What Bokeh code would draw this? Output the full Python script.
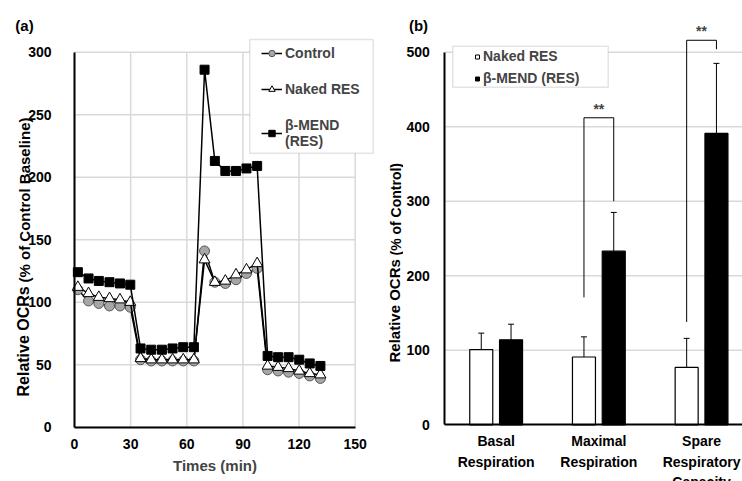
import math
from bokeh.plotting import figure
from bokeh.models import (Range1d, FixedTicker, Legend, LegendItem, Whisker, TeeHead,
                          Label, ColumnDataSource, BoxAnnotation)
from bokeh.layouts import row
from bokeh.embed import file_html
from bokeh.resources import INLINE

# ---------------- data: panel (a) ----------------
times = [1.8, 7.5, 13.0, 18.7, 24.3, 29.8, 35.3, 41.0, 46.7, 52.4, 58.1, 63.8,
         69.5, 75.0, 80.6, 86.3, 91.9, 97.6, 103.2, 108.8, 114.4, 120.1, 125.7, 131.4]
control = [110, 101, 99, 97, 97, 96, 54, 53, 53, 53, 53, 53,
           141, 116, 115, 118, 123, 127, 46, 45, 44, 43, 41, 39]
naked = [112, 107, 104, 103, 102, 100, 55, 54, 54, 54, 54, 54,
         134, 116, 117, 122, 126, 131, 49, 48, 47, 45, 43, 42]
beta = [124, 119, 117, 116, 115, 114, 63, 62, 62, 63, 64, 64,
        286, 213, 205, 205, 207, 209, 57, 56, 56, 54, 51, 49]
x_ticks_a = [0, 30, 60, 90, 120, 150]
y_ticks_a = [0, 50, 100, 150, 200, 250, 300]

# ---------------- data: panel (b) ----------------
categories = ["Basal\nRespiration", "Maximal\nRespiration", "Spare\nRespiratory\nCapacity"]
naked_mean = [101, 91, 77]
naked_err = [22, 27, 39]
beta_mean = [114, 233, 391]
beta_err = [21, 52, 94]
sig_text = ["", "**", "**"]
bracket_left = [None, 171, 138]
bracket_top = [None, 412, 516]
bracket_right = [None, 300, 504]
y_ticks_b = [0, 100, 200, 300, 400, 500]

FONT = "Liberation Sans"
GRID = "#d9d9d9"
BORDER = "#a6a6a6"
H = 481
W1 = 403
W2 = 339
NAN = float("nan")

# pixel <-> data helpers (layout only)
A_X0, A_SX = 74.0, 280.7 / 150     # panel (a): x of 0 min, px per min
A_Y0, A_SY = 426.7, 375.0 / 300    # panel (a): y of 0 %, px per unit
B_X0, B_SX = 444.3, 102.7          # panel (b): x of 0, px per category
B_Y0, B_SY = 424.3, 372.6 / 500


def ax(px): return (px - A_X0) / A_SX
def ay(py): return (A_Y0 - py) / A_SY
def bx(px): return (px - B_X0) / B_SX
def by(py): return (B_Y0 - py) / B_SY


def style_axes(p):
    p.outline_line_color = None
    p.grid.visible = False
    for a in (p.xaxis, p.yaxis):
        a.fixed_location = 0
        a.axis_line_width = 2
        a.axis_line_color = "black"
        a.major_tick_line_color = None
        a.minor_tick_line_color = None
        a.major_label_text_font = FONT
        a.major_label_text_font_style = "bold"
        a.major_label_text_font_size = "14px"
        a.major_label_text_color = "black"


def text(p, x, y, txt, size, angle=0.0, align="center"):
    p.add_layout(Label(x=x, y=y, text=txt, angle=angle, text_align=align,
                       text_baseline="middle", text_font=FONT, text_font_style="bold",
                       text_font_size=size, text_color="black"))


def style_legend(leg):
    leg.label_text_font = FONT
    leg.label_text_font_style = "bold"
    leg.label_text_font_size = "14px"
    leg.border_line_color = None
    leg.background_fill_color = None
    leg.margin = 0
    leg.padding = 0


# ================= panel (a) =================
p1 = figure(width=W1, height=H, x_range=Range1d(ax(0), ax(W1)), y_range=Range1d(ay(H), ay(0)),
            output_backend="svg", toolbar_location=None, min_border=0)
style_axes(p1)
p1.xaxis.ticker = FixedTicker(ticks=x_ticks_a)
p1.yaxis.ticker = FixedTicker(ticks=y_ticks_a)
p1.xaxis.bounds = (x_ticks_a[0], x_ticks_a[-1])
p1.yaxis.bounds = (y_ticks_a[0], y_ticks_a[-1])
p1.yaxis.major_label_standoff = 17
p1.xaxis.major_label_standoff = 6
p1.xaxis.axis_label = "Times (min)"
p1.xaxis.axis_label_text_font = FONT
p1.xaxis.axis_label_text_font_style = "bold"
p1.xaxis.axis_label_text_font_size = "15px"
p1.xaxis.axis_label_standoff = 4

p1.segment(x0=x_ticks_a, y0=[y_ticks_a[0]] * len(x_ticks_a),
           x1=x_ticks_a, y1=[y_ticks_a[-1]] * len(x_ticks_a),
           line_color=GRID, line_width=1.5, level="underlay")
p1.segment(x0=[x_ticks_a[0]] * len(y_ticks_a), y0=y_ticks_a,
           x1=[x_ticks_a[-1]] * len(y_ticks_a), y1=y_ticks_a,
           line_color=GRID, line_width=1.5, level="underlay")

l1 = p1.line(times, control, line_color="black", line_width=1.5)
s1 = p1.scatter(times, control, marker="circle", size=10, fill_color="#a6a6a6",
                line_color="#555555", line_width=1)
l2 = p1.line(times, naked, line_color="black", line_width=1.5)
s2 = p1.scatter(times, naked, marker="triangle", size=11, fill_color="white",
                line_color="black", line_width=1)
l3 = p1.line(times, beta, line_color="black", line_width=1.5)
s3 = p1.scatter(times, beta, marker="square", size=9, fill_color="black", line_color="black")

p1.add_layout(BoxAnnotation(left=ax(249.3), right=ax(372.7), top=ay(39), bottom=ay(152.7),
                            fill_color="white", fill_alpha=1, line_color=BORDER,
                            line_width=1.5, level="annotation"))
leg1 = Legend(items=[LegendItem(label="Control", renderers=[l1, s1]),
                     LegendItem(label="Naked RES", renderers=[l2, s2]),
                     LegendItem(label="β-MEND\n(RES)", renderers=[l3, s3])],
              location=(261, H - 148.5))
style_legend(leg1)
leg1.label_text_line_height = 1.3
leg1.spacing = 20
leg1.glyph_width = 21
leg1.glyph_height = 16
leg1.label_height = 16
leg1.label_standoff = 3
p1.add_layout(leg1)

text(p1, ax(24), ay(25), "(a)", "15px")
text(p1, ax(23), ay(396), "Relative OCRs", "16px", math.pi / 2, "left")
text(p1, ax(24), ay(282), "(% of Control Baseline)", "15px", math.pi / 2, "left")
# y title of panel (b) sits in the left margin of panel (b), inside this canvas
text(p1, ax(394), ay(362), "Relative OCRs", "15px", math.pi / 2, "left")
text(p1, ax(395), ay(255), "(% of Control)", "14px", math.pi / 2, "left")

# ================= panel (b) =================
p2 = figure(width=W2, height=H, x_range=Range1d(bx(W1), bx(W1 + W2)),
            y_range=Range1d(by(H), by(0)),
            output_backend="svg", toolbar_location=None, min_border=0)
style_axes(p2)
centers = [i + 0.5 for i in range(len(categories))]
p2.xaxis.ticker = FixedTicker(ticks=centers)
p2.xaxis.major_label_overrides = {c: cat for c, cat in zip(centers, categories)}
p2.xaxis.major_label_standoff = 2
p2.xaxis.major_label_text_line_height = 1.3
p2.xaxis.bounds = (0, bx(W1 + W2))
p2.yaxis.ticker = FixedTicker(ticks=y_ticks_b)
p2.yaxis.bounds = (y_ticks_b[0], y_ticks_b[-1])
p2.yaxis.major_label_standoff = 9

grid_y = y_ticks_b[1:]
p2.segment(x0=[0] * len(grid_y), y0=grid_y, x1=[bx(W1 + W2)] * len(grid_y), y1=grid_y,
           line_color=GRID, line_width=1.5, level="underlay")

off, bw = 0.145, 0.224
xn = [c - off for c in centers]
xb = [c + off for c in centers]
src_n = ColumnDataSource(dict(x=xn, top=naked_mean,
                              upper=[m + e for m, e in zip(naked_mean, naked_err)]))
src_b = ColumnDataSource(dict(x=xb, top=beta_mean,
                              upper=[m + e for m, e in zip(beta_mean, beta_err)]))
r_n = p2.vbar(x="x", top="top", width=bw, source=src_n, fill_color="white",
              line_color="black", line_width=1.2)
r_b = p2.vbar(x="x", top="top", width=bw, source=src_b, fill_color="black",
              line_color="black", line_width=1.2)
for src in (src_n, src_b):
    p2.add_layout(Whisker(source=src, base="x", lower="top", upper="upper",
                          upper_head=TeeHead(size=6, line_width=1), lower_head=None,
                          line_width=1, level="overlay"))

bx0, by0, bx1, by1 = [], [], [], []
for i, c in enumerate(centers):
    if bracket_top[i] is None:
        continue
    bx0 += [xn[i], xn[i], xb[i]]
    by0 += [bracket_left[i], bracket_top[i], bracket_top[i]]
    bx1 += [xn[i], xb[i], xb[i]]
    by1 += [bracket_top[i], bracket_top[i], bracket_right[i]]
    p2.add_layout(Label(x=c, y=bracket_top[i], y_offset=1, text=sig_text[i],
                        text_align="center", text_baseline="bottom", text_font=FONT,
                        text_font_style="bold", text_font_size="14px"))
p2.segment(x0=bx0, y0=by0, x1=bx1, y1=by1, line_color="black", line_width=1)

text(p2, bx(418), by(25), "(b)", "15px")

# legend frame + legend (swatches drawn as small squares)
p2.add_layout(BoxAnnotation(left=bx(452.3), right=bx(607.7), top=by(45.7), bottom=by(86.7),
                            fill_color="white", fill_alpha=1, line_color=BORDER,
                            line_width=1.5, level="annotation"))
k_n = p2.scatter(x=[NAN], y=[NAN], marker="square", size=8, fill_color="white",
                 line_color="black")
k_b = p2.scatter(x=[NAN], y=[NAN], marker="square", size=8, fill_color="black",
                 line_color="black")
leg2 = Legend(items=[LegendItem(label="Naked RES", renderers=[k_n]),
                     LegendItem(label="β-MEND (RES)", renderers=[k_b])],
              location=(472 - W1, H - 86.5))
style_legend(leg2)
leg2.spacing = 5
leg2.glyph_width = 10
leg2.glyph_height = 17
leg2.label_height = 17
leg2.label_standoff = 1
p2.add_layout(leg2)

layout = row(p1, p2)
open("out.html", "w").write(file_html(layout, INLINE))
